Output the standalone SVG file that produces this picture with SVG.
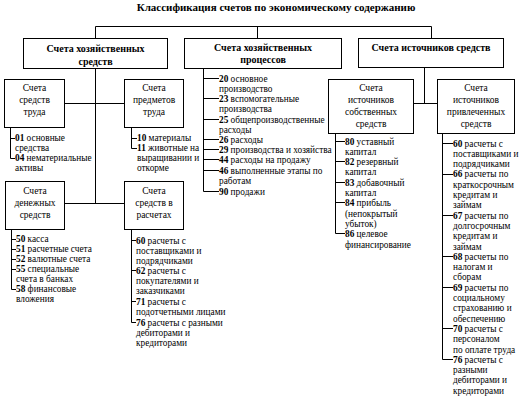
<svg xmlns="http://www.w3.org/2000/svg" width="520" height="408" viewBox="0 0 520 408" font-family="'Liberation Serif', 'DejaVu Serif', serif">
<style>
.bg{fill:#fff}
.box{fill:#fff;stroke:#000;stroke-width:1}
.ln{stroke:#000;stroke-width:1;fill:none}
text{font-family:'Liberation Serif','DejaVu Serif',serif;fill:#000}
.title{font-size:11px;font-weight:bold}
.h{font-size:10px;font-weight:bold;text-anchor:middle}
.b{font-size:9.5px;text-anchor:middle}
.it{font-size:9.3px}
.n{font-weight:bold}
</style>
<rect class="bg" x="0" y="0" width="520" height="408"/>
<text class="title" x="276" y="11" text-anchor="middle">Классификация счетов по экономическому содержанию</text>

<g id="connectors">
<path class="ln" d="M95.5,26.5H431.5M95.5,26.5V38M257.5,26.5V38M431.5,26.5V38"/>
<path class="ln" d="M95.5,68V203.5M64,103.5H124M64,203.5H124"/>
<path class="ln" d="M424.5,68V103.5M413,103.5H437"/>
<path class="ln" d="M10.5,127V158.5M10.5,138.5H15M10.5,158.5H15"/>
<path class="ln" d="M131.5,127V148.5M131.5,138.5H137M131.5,148.5H137"/>
<path class="ln" d="M11.5,229V289.5M11.5,239.5H16M11.5,249.5H16M11.5,259.5H16M11.5,269.5H16M11.5,289.5H16"/>
<path class="ln" d="M131.5,229V322.5M131.5,240.5H136M131.5,270.5H136M131.5,301.5H136M131.5,322.5H136"/>
<path class="ln" d="M203.5,68V191.5M203.5,78.5H219M203.5,98.5H219M203.5,119.5H219M203.5,139.5H219M203.5,149.5H219M203.5,159.5H219M203.5,170.5H219M203.5,191.5H219"/>
<path class="ln" d="M335.5,133V233.5M335.5,141.5H345M335.5,161.5H345M335.5,182.5H345M335.5,202.5H345M335.5,233.5H345"/>
<path class="ln" d="M442.5,133V359.5M442.5,143.5H453M442.5,174.5H453M442.5,215.5H453M442.5,256.5H453M442.5,287.5H453M442.5,328.5H453M442.5,359.5H453"/>
</g>

<g id="n-assets">
<rect class="box" x="23.5" y="38.5" width="144" height="30"/>
<text class="h" x="95.5" y="51.5">Счета хозяйственных</text>
<text class="h" x="95.5" y="64.5">средств</text>
</g>
<g id="n-processes">
<rect class="box" x="184.5" y="38.5" width="157" height="30"/>
<text class="h" x="263" y="50.5">Счета хозяйственных</text>
<text class="h" x="263" y="62.5">процессов</text>
</g>
<g id="n-sources">
<rect class="box" x="358.5" y="38.5" width="145" height="29"/>
<text class="h" x="431" y="50.5">Счета источников средств</text>
</g>

<g id="n-labor-means">
<rect class="box" x="4.5" y="79.5" width="60" height="48"/>
<text class="b" x="34.5" y="91">Счета</text>
<text class="b" x="34.5" y="103">средств</text>
<text class="b" x="34.5" y="115">труда</text>
<text class="it" x="15" y="141"><tspan class="n">01</tspan> основные</text>
<text class="it" x="15" y="151">средства</text>
<text class="it" x="15" y="161"><tspan class="n">04</tspan> нематериальные</text>
<text class="it" x="15" y="171">активы</text>
</g>

<g id="n-labor-objects">
<rect class="box" x="124.5" y="79.5" width="59" height="48"/>
<text class="b" x="154" y="91">Счета</text>
<text class="b" x="154" y="103">предметов</text>
<text class="b" x="154" y="115">труда</text>
<text class="it" x="137" y="141"><tspan class="n">10</tspan> материалы</text>
<text class="it" x="137" y="151"><tspan class="n">11</tspan> животные на</text>
<text class="it" x="137" y="161">выращивании и</text>
<text class="it" x="137" y="171">откорме</text>
</g>

<g id="n-cash">
<rect class="box" x="5.5" y="181.5" width="59" height="48"/>
<text class="b" x="35" y="194">Счета</text>
<text class="b" x="35" y="206">денежных</text>
<text class="b" x="35" y="218">средств</text>
<text class="it" x="16" y="242"><tspan class="n">50</tspan> касса</text>
<text class="it" x="16" y="252"><tspan class="n">51</tspan> расчетные счета</text>
<text class="it" x="16" y="262"><tspan class="n">52</tspan> валютные счета</text>
<text class="it" x="16" y="272"><tspan class="n">55</tspan> специальные</text>
<text class="it" x="16" y="282">счета в банках</text>
<text class="it" x="16" y="292"><tspan class="n">58</tspan> финансовые</text>
<text class="it" x="16" y="302">вложения</text>
</g>

<g id="n-settlements">
<rect class="box" x="124.5" y="181.5" width="59" height="48"/>
<text class="b" x="154" y="194">Счета</text>
<text class="b" x="154" y="206">средств в</text>
<text class="b" x="154" y="218">расчетах</text>
<text class="it" x="136" y="243.5"><tspan class="n">60</tspan> расчеты с</text>
<text class="it" x="136" y="253.5">поставщиками и</text>
<text class="it" x="136" y="263.5">подрядчиками</text>
<text class="it" x="136" y="273.5"><tspan class="n">62</tspan> расчеты с</text>
<text class="it" x="136" y="283.5">покупателями и</text>
<text class="it" x="136" y="293.5">заказчиками</text>
<text class="it" x="136" y="304.5"><tspan class="n">71</tspan> расчеты с</text>
<text class="it" x="136" y="314.5">подотчетными лицами</text>
<text class="it" x="136" y="325.5"><tspan class="n">76</tspan> расчеты с разными</text>
<text class="it" x="136" y="335.5">дебиторами и</text>
<text class="it" x="136" y="345.5">кредиторами</text>
</g>

<g id="n-process-items">
<text class="it" x="219" y="81.5"><tspan class="n">20</tspan> основное</text>
<text class="it" x="219" y="91.5">производство</text>
<text class="it" x="219" y="101.5"><tspan class="n">23</tspan> вспомогательные</text>
<text class="it" x="219" y="111.5">производства</text>
<text class="it" x="219" y="122.5"><tspan class="n">25</tspan> общепроизводственные</text>
<text class="it" x="219" y="132.5">расходы</text>
<text class="it" x="219" y="142.5"><tspan class="n">26</tspan> расходы</text>
<text class="it" x="219" y="152.5"><tspan class="n">29</tspan> производства и хозяйства</text>
<text class="it" x="219" y="162.5"><tspan class="n">44</tspan> расходы на продажу</text>
<text class="it" x="219" y="173.5"><tspan class="n">46</tspan> выполненные этапы по</text>
<text class="it" x="219" y="183.5">работам</text>
<text class="it" x="219" y="194.5"><tspan class="n">90</tspan> продажи</text>
</g>

<g id="n-own">
<rect class="box" x="328.5" y="79.5" width="85" height="54"/>
<text class="b" x="371" y="91">Счета</text>
<text class="b" x="371" y="103">источников</text>
<text class="b" x="371" y="115">собственных</text>
<text class="b" x="371" y="127">средств</text>
<text class="it" x="345" y="144.5"><tspan class="n">80</tspan> уставный</text>
<text class="it" x="345" y="154.8">капитал</text>
<text class="it" x="345" y="165.1"><tspan class="n">82</tspan> резервный</text>
<text class="it" x="345" y="175.4">капитал</text>
<text class="it" x="345" y="185.7"><tspan class="n">83</tspan> добавочный</text>
<text class="it" x="345" y="196">капитал</text>
<text class="it" x="345" y="206.3"><tspan class="n">84</tspan> прибыль</text>
<text class="it" x="345" y="216.6">(непокрытый</text>
<text class="it" x="345" y="226.9">убыток)</text>
<text class="it" x="345" y="237.2"><tspan class="n">86</tspan> целевое</text>
<text class="it" x="345" y="247.5">финансирование</text>
</g>

<g id="n-borrowed">
<rect class="box" x="437.5" y="79.5" width="77" height="54"/>
<text class="b" x="476" y="91">Счета</text>
<text class="b" x="476" y="103">источников</text>
<text class="b" x="476" y="115">привлеченных</text>
<text class="b" x="476" y="127">средств</text>
<text class="it" x="453" y="146.5"><tspan class="n">60</tspan> расчеты с</text>
<text class="it" x="453" y="156.8">поставщиками и</text>
<text class="it" x="453" y="167.1">подрядчиками</text>
<text class="it" x="453" y="177.4"><tspan class="n">66</tspan> расчеты по</text>
<text class="it" x="453" y="187.7">краткосрочным</text>
<text class="it" x="453" y="198">кредитам и</text>
<text class="it" x="453" y="208.3">займам</text>
<text class="it" x="453" y="218.6"><tspan class="n">67</tspan> расчеты по</text>
<text class="it" x="453" y="228.9">долгосрочным</text>
<text class="it" x="453" y="239.2">кредитам и</text>
<text class="it" x="453" y="249.5">займам</text>
<text class="it" x="453" y="259.8"><tspan class="n">68</tspan> расчеты по</text>
<text class="it" x="453" y="270.1">налогам и</text>
<text class="it" x="453" y="280.4">сборам</text>
<text class="it" x="453" y="290.7"><tspan class="n">69</tspan> расчеты по</text>
<text class="it" x="453" y="301">социальному</text>
<text class="it" x="453" y="311.3">страхованию и</text>
<text class="it" x="453" y="321.6">обеспечению</text>
<text class="it" x="453" y="331.9"><tspan class="n">70</tspan> расчеты с</text>
<text class="it" x="453" y="342.2">персоналом</text>
<text class="it" x="453" y="352.5">по оплате труда</text>
<text class="it" x="453" y="362.8"><tspan class="n">76</tspan> расчеты с</text>
<text class="it" x="453" y="373.1">разными</text>
<text class="it" x="453" y="383.4">дебиторами и</text>
<text class="it" x="453" y="393.7">кредиторами</text>
</g>
</svg>
